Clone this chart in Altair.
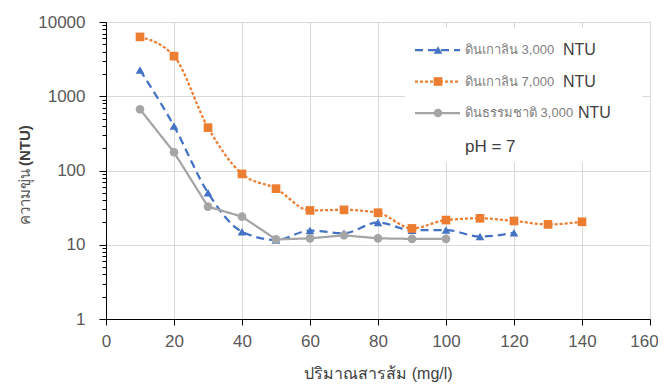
import altair as alt
import pandas as pd

# ---- data ----
dose_blue = [10, 20, 30, 40, 50, 60, 70, 80, 90, 100, 110, 120]
ntu_blue = [2260, 397, 50, 15, 11.6, 15.5, 14.3, 20, 15.7, 15.8, 12.9, 14.5]

dose_orange = [10, 20, 30, 40, 50, 60, 70, 80, 90, 100, 110, 120, 130, 140]
ntu_orange = [6300, 3470, 378, 90, 57, 29, 29.5, 27, 16.6, 21.5, 22.7, 20.9, 18.8, 20.4]

dose_gray = [10, 20, 30, 40, 50, 60, 70, 80, 90, 100]
ntu_gray = [667, 176, 32.6, 23.9, 11.8, 12.2, 13.4, 12.2, 12.0, 12.0]

series_names = ["ดินเกาลิน 3,000", "ดินเกาลิน 7,000", "ดินธรรมชาติ 3,000"]
series_unit = "NTU"
series_colors = ["#4472C4", "#ED7D31", "#A5A5A5"]
series_shapes = ["triangle-up", "square", "circle"]
series_dash = [[8, 5], [3, 2], [1, 0]]
series_interp = ["monotone", "monotone", "linear"]
x_ticks = [0, 20, 40, 60, 80, 100, 120, 140, 160]
y_ticks = [m * 10 ** e for e in range(0, 4) for m in range(1, 10)] + [10000]
note_text = "pH = 7"
x_title = "ปริมาณสารส้ม (mg/l)"
y_title_a = "ความขุ่น"
y_title_b = "(NTU)"

FONT = "Liberation Sans"
W, H = 544, 297

is_major = "abs(log(datum.value)/LN10 - round(log(datum.value)/LN10)) < 0.001"

xs = alt.X("dose:Q", scale=alt.Scale(domain=[0, 160], nice=False),
           axis=alt.Axis(values=x_ticks, title=x_title, grid=True, gridColor="#D9D9D9",
                         domainColor="#000", tickColor="#000", tickSize=6, labelFlush=False,
                         labelOffset={"condition": {"test": "datum.value == 160", "value": -6}, "value": 0},
                         labelFont=FONT, labelFontSize=17, labelColor="#595959", labelPadding=8,
                         titleFont=FONT, titleFontSize=16, titleColor="#404040", titleFontWeight="normal",
                         titleBaseline="alphabetic", titleY=59))
ys = alt.Y("ntu:Q", scale=alt.Scale(type="log", domain=[1, 10000], nice=False),
           axis=alt.Axis(values=y_ticks, title=None, format="d", labelFlush=False,
                         labelExpr=f"({is_major}) ? format(datum.value, 'd') : ''",
                         grid=True, gridColor="#D9D9D9",
                         gridOpacity={"condition": {"test": is_major, "value": 1}, "value": 0},
                         tickSize={"condition": {"test": is_major, "value": 7}, "value": 4},
                         domainColor="#000", tickColor="#000",
                         labelFont=FONT, labelFontSize=17, labelColor="#595959", labelPadding=14))

layers = []
all_series = [(dose_blue, ntu_blue), (dose_orange, ntu_orange), (dose_gray, ntu_gray)]
for i, (d, v) in enumerate(all_series):
    df = pd.DataFrame({"dose": d, "ntu": v})
    line = alt.Chart(df).mark_line(color=series_colors[i], strokeWidth=2.25,
                                   strokeDash=series_dash[i], interpolate=series_interp[i]).encode(x=xs, y=ys)
    pts = alt.Chart(df).mark_point(shape=series_shapes[i], filled=True, size=75, opacity=1,
                                   color=series_colors[i]).encode(x=xs, y=ys)
    layers += [line, pts]

main = alt.layer(*layers)

# ---- y title in two weights (reads bottom to top) ----
yt = pd.DataFrame({"t": [y_title_a, y_title_b], "py": [147, 144]})
ytitle_a = alt.Chart(yt.iloc[[0]]).mark_text(angle=270, align="right", baseline="middle", font=FONT,
                                             fontSize=15, color="#595959").encode(
    x=alt.value(-81), y=alt.Y("py:Q", scale=None, axis=None), text="t:N")
ytitle_b = alt.Chart(yt.iloc[[1]]).mark_text(angle=270, align="left", baseline="middle", font=FONT,
                                             fontSize=15, fontWeight="bold", color="#404040").encode(
    x=alt.value(-81), y=alt.Y("py:Q", scale=None, axis=None), text="t:N")

# ---- legend drawn inside the plot ----
leg_df = pd.DataFrame({"name": series_names, "row": [0, 1, 2]})
leg_df["ly"] = 28 + leg_df["row"] * 31.5
leg_df["x1"] = 309
leg_df["x2"] = 354
leg_df["xm"] = 332
leg_df["xt"] = 359
leg_df["unit"] = series_unit
leg_df["xu"] = [457, 457, 472]

bg = alt.Chart(pd.DataFrame({"a": [0]})).mark_rect(color="white").encode(
    x=alt.value(299), x2=alt.value(536), y=alt.value(6), y2=alt.value(140))

leg_layers = [bg]
for i in range(3):
    sub = leg_df[leg_df.row == i]
    leg_layers.append(alt.Chart(sub).mark_rule(color=series_colors[i], strokeWidth=2.25,
                                               strokeDash=series_dash[i]).encode(
        x=alt.X("x1:Q", scale=None, axis=None), x2="x2:Q", y=alt.Y("ly:Q", scale=None, axis=None)))
    leg_layers.append(alt.Chart(sub).mark_point(shape=series_shapes[i], filled=True, size=75, opacity=1,
                                                color=series_colors[i]).encode(
        x=alt.X("xm:Q", scale=None, axis=None), y=alt.Y("ly:Q", scale=None, axis=None)))
leg_layers.append(alt.Chart(leg_df).mark_text(align="left", baseline="middle", font=FONT, fontSize=13,
                                              color="#7F7F7F").encode(
    x=alt.X("xt:Q", scale=None, axis=None), y=alt.Y("ly:Q", scale=None, axis=None), text="name:N"))
leg_layers.append(alt.Chart(leg_df).mark_text(align="left", baseline="middle", font=FONT, fontSize=16,
                                              color="#404040").encode(
    x=alt.X("xu:Q", scale=None, axis=None), y=alt.Y("ly:Q", scale=None, axis=None), text="unit:N"))
leg_layers.append(alt.Chart(pd.DataFrame({"t": [note_text]})).mark_text(
    align="left", baseline="middle", font=FONT, fontSize=17, color="#404040").encode(
    x=alt.value(359), y=alt.value(125), text="t:N"))

legend = alt.layer(*leg_layers)

chart = alt.layer(main, ytitle_a, ytitle_b, legend).resolve_scale(x="independent", y="independent").properties(
    width=W, height=H,
    autosize=alt.AutoSizeParams(type="none"),
    padding={"left": 98, "top": 14, "right": 8, "bottom": 64},
).configure_view(stroke=None).configure(background="white")

chart.save("out.html", embed_options={"renderer": "svg", "actions": False})
